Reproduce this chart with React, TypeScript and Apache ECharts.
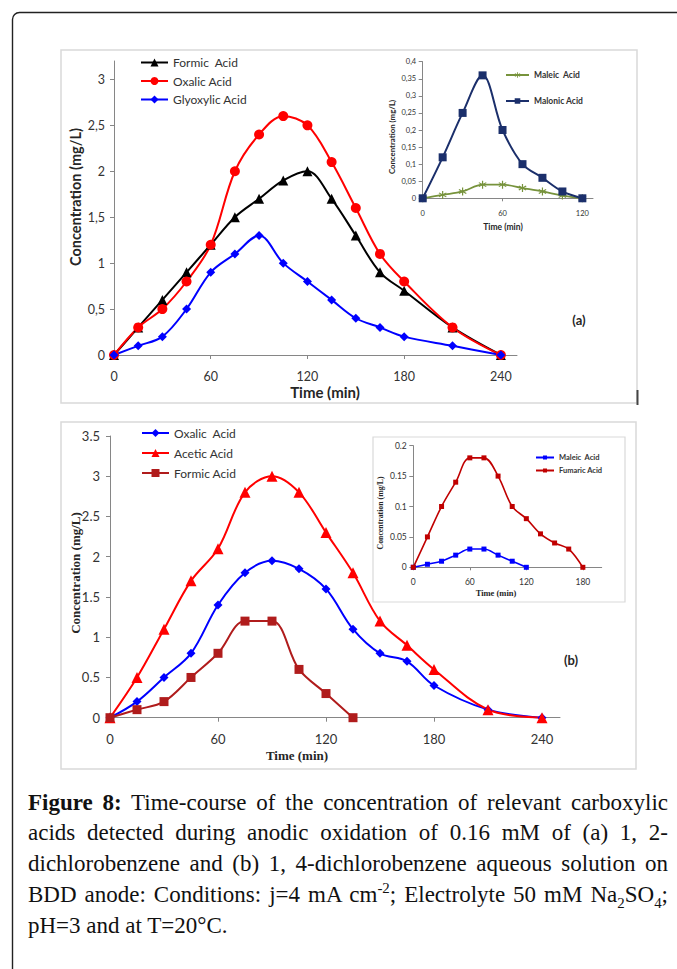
import React, { useEffect, useRef } from "react";
import * as echarts from "echarts";

// ---------- data ----------
const timeA = [0, 15, 30, 45, 60, 75, 90, 105, 120, 135, 150, 165, 180, 210, 240];
const formicA = [0, 0.3, 0.6, 0.9, 1.2, 1.5, 1.7, 1.9, 2.0, 1.7, 1.3, 0.9, 0.7, 0.3, 0];
const oxalicA = [0, 0.3, 0.5, 0.8, 1.2, 2.0, 2.4, 2.6, 2.5, 2.1, 1.6, 1.1, 0.8, 0.3, 0];
const glyoxylicA = [0, 0.1, 0.2, 0.5, 0.9, 1.1, 1.3, 1.0, 0.8, 0.6, 0.4, 0.3, 0.2, 0.1, 0];

const timeAInset = [0, 15, 30, 45, 60, 75, 90, 105, 120];
const maleicA = [0, 0.01, 0.02, 0.04, 0.04, 0.03, 0.02, 0.008, 0];
const malonicA = [0, 0.12, 0.25, 0.36, 0.2, 0.1, 0.06, 0.02, 0];

const timeB = [0, 15, 30, 45, 60, 75, 90, 105, 120, 135, 150, 165, 180, 210, 240];
const oxalicB = [0, 0.2, 0.5, 0.8, 1.4, 1.8, 1.95, 1.85, 1.6, 1.1, 0.8, 0.7, 0.4, 0.1, 0];
const aceticB = [0, 0.5, 1.1, 1.7, 2.1, 2.8, 3.0, 2.8, 2.3, 1.8, 1.2, 0.9, 0.6, 0.1, 0];
const timeBFormic = [0, 15, 30, 45, 60, 75, 90, 105, 120, 135];
const formicB = [0, 0.1, 0.2, 0.5, 0.8, 1.2, 1.2, 0.6, 0.3, 0];

const timeBInsetFumaric = [0, 15, 30, 45, 60, 75, 90, 105, 120, 135, 150, 165, 180];
const fumaricB = [0, 0.05, 0.1, 0.14, 0.18, 0.18, 0.15, 0.1, 0.08, 0.055, 0.04, 0.03, 0];
const timeBInsetMaleic = [0, 15, 30, 45, 60, 75, 90, 105, 120];
const maleicB = [0, 0.005, 0.01, 0.02, 0.03, 0.03, 0.02, 0.01, 0];

const xTicksMain = [0, 60, 120, 180, 240];
const xTicksInsetA = [0, 60, 120];
const xTicksInsetB = [0, 60, 120, 180];
const yTicksA = [0, 0.5, 1, 1.5, 2, 2.5, 3];

const seriesLabels: Record<string, string> = {
  aFormic: "Formic  Acid",
  aOxalic: "Oxalic Acid",
  aGly: "Glyoxylic Acid",
  aMaleic: "Maleic  Acid",
  aMalonic: "Malonic Acid",
  bOxalic: "Oxalic  Acid",
  bAcetic: "Acetic Acid",
  bFormic: "Formic Acid",
  bMaleic: "Maleic  Acid",
  bFumaric: "Fumaric Acid",
};

// ---------- styling ----------
const SANS = "Lato, 'Open Sans', 'Noto Sans', sans-serif";
const SERIF = "'Liberation Serif', 'DejaVu Serif', serif";
const AX = "#868686";
const LBL = "#333";
const ASTERISK =
  "path://M-0.7,5L0.7,5L0.7,-5L-0.7,-5Z M3.98,3.106L4.68,1.894L-3.98,-3.106L-4.68,-1.894Z M-4.68,1.894L-3.98,3.106L4.68,-1.894L3.98,-3.106Z";

const pairs = (xs: number[], ys: number[]) => xs.map((x, i) => [x, ys[i]]);
const comma = (v: number) => String(+v.toFixed(3)).replace(".", ",");

function xAxis(gridIndex: number, max: number, ticks: number[], fontSize: number, margin: number, tickLen: number) {
  return {
    gridIndex,
    type: "value",
    min: 0,
    max,
    interval: 60,
    axisLine: { show: true, onZero: false, lineStyle: { color: AX, width: 1 } },
    axisTick: { show: true, length: tickLen, lineStyle: { color: AX }, customValues: ticks },
    axisLabel: { customValues: ticks, margin, fontSize, color: LBL, fontFamily: SANS },
    splitLine: { show: false },
  };
}

function yAxis(gridIndex: number, max: number, interval: number, fontSize: number, margin: number, formatter: any, ticks?: number[]) {
  const ax: any = {
    gridIndex,
    type: "value",
    min: 0,
    max,
    interval,
    axisLine: { show: true, lineStyle: { color: AX, width: 1 } },
    axisTick: { show: true, length: 4, lineStyle: { color: AX } },
    axisLabel: { margin, fontSize, color: LBL, fontFamily: SANS, formatter },
    splitLine: { show: false },
  };
  if (ticks) {
    ax.axisTick.customValues = ticks;
    ax.axisLabel.customValues = ticks;
  }
  return ax;
}

function lineSeries(name: string, idx: number, data: number[][], color: string, symbol: string, symbolSize: number, width: number) {
  return {
    name,
    type: "line",
    xAxisIndex: idx,
    yAxisIndex: idx,
    data,
    smooth: 0.35,
    symbol,
    symbolSize,
    showAllSymbol: true,
    lineStyle: { color, width },
    itemStyle: { color, borderWidth: 0 },
    emphasis: { disabled: true },
  };
}

function legend(names: string[], left: number, top: number, itemWidth: number, itemHeight: number, fontSize: number, lineHeight: number, itemGap: number, bold: boolean) {
  return {
    data: names,
    orient: "vertical",
    left,
    top,
    padding: 0,
    itemWidth,
    itemHeight,
    itemGap,
    selectedMode: false,
    formatter: (n: string) => seriesLabels[n],
    textStyle: { fontSize, lineHeight, color: LBL, fontFamily: SANS, fontWeight: bold ? "bold" : "normal" },
  };
}

function txt(text: string, x: number, y: number, fontSize: number, font: string, rotate = false, weight = "bold") {
  return {
    type: "text",
    x,
    y,
    rotation: rotate ? Math.PI / 2 : 0,
    style: { text, fontSize, fontFamily: font, fontWeight: weight, fill: "#262626", align: "center", verticalAlign: "middle" },
    z: 10,
  };
}

function box(x: number, y: number, w: number, h: number, stroke: string, lw: number, r = 0) {
  return {
    type: "rect",
    shape: { x, y, width: w, height: h, r },
    style: { fill: "none", stroke, lineWidth: lw },
    z: -1,
  };
}

export default function App() {
  const ref = useRef<HTMLDivElement>(null);

  useEffect(() => {
    if (!ref.current) return;
    const chart = echarts.init(ref.current, undefined, { renderer: "svg" });
    chart.setOption({
      animation: false,
      backgroundColor: "#fff",
      grid: [
        { left: 114, top: 61, width: 403, height: 294 },
        { left: 422.7, top: 61.7, width: 170.3, height: 136.6 },
        { left: 110, top: 436, width: 450, height: 281.7 },
        { left: 413.3, top: 445.7, width: 188.4, height: 121.6 },
      ],
      xAxis: [
        xAxis(0, 250, xTicksMain, 12.5, 15, 4),
        xAxis(1, 128, xTicksInsetA, 7.5, 11, 3),
        xAxis(2, 250, xTicksMain, 13, 15, 4),
        xAxis(3, 200, xTicksInsetB, 8.5, 10, 3),
      ],
      yAxis: [
        yAxis(0, 3.2, 0.5, 12.5, 9, comma, yTicksA),
        yAxis(1, 0.4, 0.05, 7.5, 6.5, comma),
        yAxis(2, 3.5, 0.5, 13, 10, undefined),
        yAxis(3, 0.2, 0.05, 8.5, 6.5, undefined),
      ],
      legend: [
        legend(["aFormic", "aOxalic", "aGly"], 140, 55.5, 27, 10, 12, 14, 4.5, false),
        legend(["aMaleic", "aMalonic"], 505, 70, 23, 7, 8.5, 10, 16, true),
        legend(["bOxalic", "bAcetic", "bFormic"], 141, 426, 27, 10, 12, 14, 6, false),
        legend(["bMaleic", "bFumaric"], 535, 453, 18, 5, 7.5, 9, 4, true),
      ],
      series: [
        lineSeries("aFormic", 0, pairs(timeA, formicA), "#000000", "triangle", 10, 2),
        lineSeries("aOxalic", 0, pairs(timeA, oxalicA), "#FF0000", "circle", 10, 2),
        lineSeries("aGly", 0, pairs(timeA, glyoxylicA), "#0000FF", "diamond", 9, 2),
        lineSeries("aMaleic", 1, pairs(timeAInset, maleicA), "#77933C", ASTERISK, 8, 1.8),
        lineSeries("aMalonic", 1, pairs(timeAInset, malonicA), "#1B2F6B", "rect", 8, 2),
        lineSeries("bOxalic", 2, pairs(timeB, oxalicB), "#0000FF", "diamond", 9, 2),
        lineSeries("bAcetic", 2, pairs(timeB, aceticB), "#FF0000", "triangle", 11, 2),
        lineSeries("bFormic", 2, pairs(timeBFormic, formicB), "#B01C1C", "rect", 9, 2),
        lineSeries("bMaleic", 3, pairs(timeBInsetMaleic, maleicB), "#0000FF", "rect", 5, 1.6),
        lineSeries("bFumaric", 3, pairs(timeBInsetFumaric, fumaricB), "#C00000", "rect", 5, 1.6),
      ],
      graphic: {
        elements: [
          box(12.5, 12.5, 1000, 1200, "#222", 1.4, 7),
          box(61, 50, 576, 353, "#d9d9d9", 1.5),
          { type: "line", shape: { x1: 637.5, y1: 390, x2: 637.5, y2: 405 }, style: { stroke: "#444", lineWidth: 2 }, z: 5 },
          box(61, 422, 575, 347, "#d9d9d9", 1.5),
          box(373, 437, 252, 165, "#d9d9d9", 1.2),
          txt("Time (min)", 325, 392, 15, SANS),
          txt("Concentration (mg/L)", 75, 197, 14.5, SANS, true),
          txt("Time (min)", 503, 227, 8.5, SANS),
          txt("Concentration (mg/L)", 392, 137, 7.8, SANS, true),
          txt("(a)", 579, 320, 13, SANS),
          txt("Time (min)", 297, 755, 13, SERIF),
          txt("Concentration (mg/L)", 75, 573, 13, SERIF, true),
          txt("Time (min)", 496, 592.5, 8.5, SERIF),
          txt("Concentration (mg/L)", 380.7, 513, 7.8, SERIF, true),
          txt("(b)", 571, 660, 13, SANS),
        ],
      },
    });
    return () => chart.dispose();
  }, []);

  const just: React.CSSProperties = { textAlign: "justify", textAlignLast: "justify" };
  const supSub: React.CSSProperties = { fontSize: "0.65em", lineHeight: 0 };

  return (
    <div style={{ position: "absolute", left: 0, top: 0, width: 677, height: 969, overflow: "hidden", background: "#fff" }}>
      <div ref={ref} style={{ position: "absolute", left: 0, top: 0, width: 677, height: 969 }} />
      <div
        style={{
          position: "absolute",
          left: 28,
          top: 787.5,
          width: 640,
          fontFamily: SERIF,
          fontSize: 23,
          lineHeight: "30.8px",
          color: "#111",
        }}
      >
        <div style={just}>
          <b>Figure 8:</b> Time-course of the concentration of relevant carboxylic
        </div>
        <div style={just}>acids detected during anodic oxidation of 0.16 mM of (a) 1, 2-</div>
        <div style={just}>dichlorobenzene and (b) 1, 4-dichlorobenzene aqueous solution on</div>
        <div style={just}>
          BDD anode: Conditions: j=4 mA cm<sup style={supSub}>-2</sup>; Electrolyte 50 mM Na<sub style={supSub}>2</sub>SO
          <sub style={supSub}>4</sub>;
        </div>
        <div>pH=3 and at T=20°C.</div>
      </div>
    </div>
  );
}
